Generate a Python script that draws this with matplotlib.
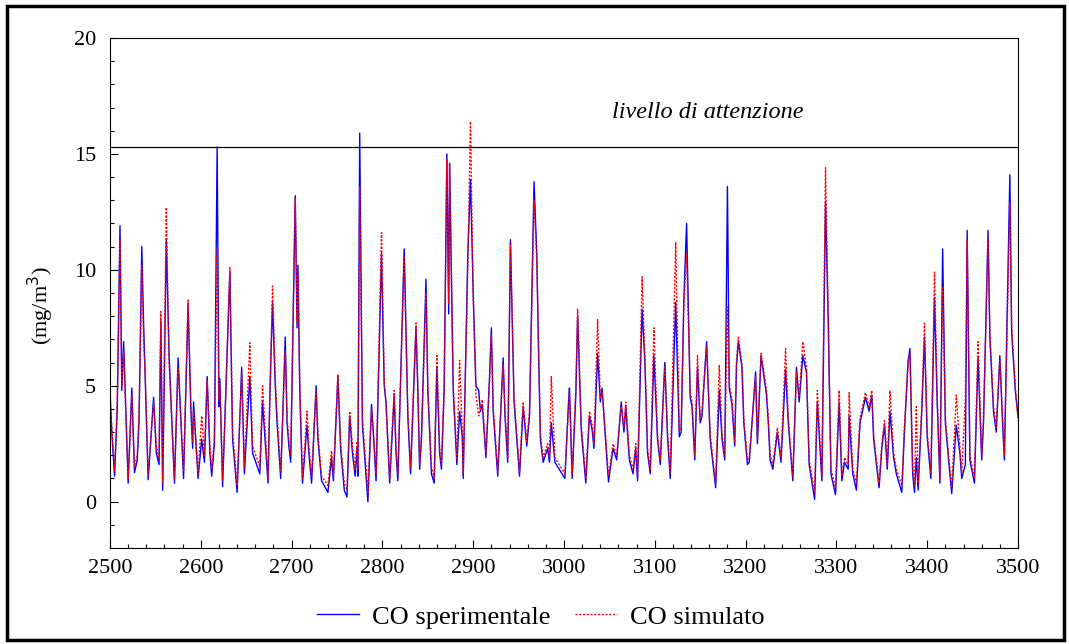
import matplotlib
matplotlib.use('Agg')
import matplotlib.pyplot as plt
from matplotlib.patches import Rectangle
from matplotlib.ticker import MultipleLocator

plt.rcParams['font.family'] = ['Liberation Serif', 'DejaVu Serif']

# ore (asse x) e valori
ore = [2500, 2502, 2505, 2508, 2511, 2513, 2515, 2520, 2524, 2527, 2530, 2532, 2535, 2537, 2539, 2542,
       2548, 2551, 2554, 2556, 2558, 2562, 2565, 2571, 2575, 2581, 2586, 2589, 2591, 2592, 2597, 2601,
       2604, 2607, 2610, 2612, 2615, 2618, 2620, 2621, 2624, 2627, 2632, 2635, 2640, 2645, 2648, 2654,
       2657, 2665, 2668, 2674, 2676, 2679, 2682, 2684, 2688, 2693, 2695, 2697, 2699, 2704, 2706, 2707,
       2709, 2712, 2717, 2719, 2722, 2727, 2729, 2733, 2740, 2744, 2746, 2751, 2754, 2758, 2761, 2764,
       2767, 2770, 2772, 2773, 2775, 2778, 2784, 2788, 2791, 2793, 2799, 2802, 2804, 2808, 2813, 2815,
       2817, 2824, 2828, 2831, 2837, 2839, 2841, 2843, 2848, 2850, 2854, 2857, 2860, 2863, 2865, 2868,
       2871, 2873, 2874, 2878, 2882, 2885, 2888, 2889, 2894, 2897, 2900, 2903, 2906, 2908, 2910, 2914,
       2918, 2920, 2922, 2927, 2933, 2935, 2938, 2941, 2945, 2951, 2955, 2959, 2962, 2967, 2970, 2972,
       2974, 2977, 2982, 2984, 2986, 2990, 3001, 3005, 3006, 3009, 3013, 3015, 3019, 3024, 3028, 3031,
       3033, 3037, 3040, 3042, 3045, 3049, 3054, 3058, 3063, 3066, 3068, 3072, 3076, 3079, 3081, 3086,
       3089, 3092, 3095, 3099, 3103, 3106, 3111, 3114, 3117, 3123, 3127, 3129, 3132, 3135, 3139, 3141,
       3144, 3147, 3150, 3152, 3157, 3161, 3167, 3171, 3174, 3177, 3180, 3182, 3185, 3188, 3190, 3192,
       3196, 3198, 3202, 3204, 3211, 3213, 3217, 3223, 3225, 3227, 3230, 3235, 3239, 3244, 3247, 3252,
       3256, 3259, 3263, 3267, 3270, 3276, 3279, 3282, 3284, 3288, 3291, 3294, 3299, 3303, 3306, 3309,
       3313, 3314, 3318, 3322, 3326, 3332, 3336, 3339, 3341, 3347, 3350, 3353, 3356, 3359, 3363, 3366,
       3372, 3375, 3379, 3381, 3384, 3386, 3388, 3390, 3394, 3397, 3400, 3404, 3408, 3411, 3414, 3417,
       3420, 3424, 3427, 3432, 3436, 3438, 3442, 3444, 3447, 3452, 3456, 3460, 3462, 3467, 3469, 3473,
       3476, 3480, 3483, 3485, 3491, 3493, 3497, 3500]

co_sperimentale = [4.8, 3.0, 1.1, 4.0, 11.9, 4.8, 6.9, 0.8, 4.9, 1.25, 1.8, 3.5, 11.0, 7.7, 5.0, 0.95,
                   4.5, 2.1, 1.6, 7.8, 0.5, 11.3, 6.4, 0.8, 6.2, 1.0, 8.5, 4.0, 2.3, 4.3, 1.0, 2.7,
                   1.7, 5.4, 2.1, 1.1, 2.5, 15.3, 4.1, 5.3, 0.65, 4.1, 9.9, 2.7, 0.4, 5.8, 1.2, 5.4,
                   2.1, 1.2, 4.3, 0.8, 4.5, 8.6, 5.0, 3.4, 1.0, 7.1, 3.4, 2.4, 1.7, 13.2, 7.5, 10.2,
                   4.8, 0.8, 3.3, 2.1, 0.8, 5.0, 2.7, 0.9, 0.4, 1.9, 0.9, 5.4, 2.3, 0.5, 0.2, 3.7,
                   2.1, 1.1, 2.3, 1.1, 15.9, 3.3, 0.0, 4.2, 2.3, 0.9, 10.7, 5.0, 4.3, 0.8, 4.6, 2.1,
                   0.9, 10.9, 3.7, 1.2, 7.5, 4.8, 1.4, 2.7, 9.6, 4.8, 1.2, 0.8, 5.8, 2.1, 1.4, 4.8,
                   15.0, 8.1, 14.6, 4.8, 1.6, 3.9, 2.8, 1.0, 10.6, 13.9, 9.0, 5.0, 4.8, 3.9, 4.2, 1.9,
                   5.4, 7.5, 3.9, 1.1, 6.2, 3.7, 1.7, 11.3, 4.3, 1.1, 4.1, 2.4, 3.7, 13.8, 10.7, 6.4,
                   2.7, 1.7, 2.3, 1.7, 3.4, 1.7, 1.0, 4.3, 4.9, 1.0, 4.6, 8.0, 3.1, 0.8, 3.7, 3.1,
                   2.3, 6.4, 4.3, 4.9, 3.1, 0.85, 2.3, 1.8, 4.3, 3.0, 4.1, 1.8, 1.2, 2.3, 0.9, 8.3,
                   6.1, 2.1, 1.2, 6.3, 2.7, 1.6, 6.0, 2.8, 1.0, 8.6, 2.8, 3.0, 8.7, 12.0, 4.5, 4.1,
                   1.8, 5.8, 3.4, 3.7, 6.9, 2.7, 0.6, 4.8, 2.7, 1.8, 13.6, 4.9, 4.2, 2.4, 5.9, 6.9,
                   5.8, 3.4, 1.6, 1.7, 5.6, 2.5, 6.3, 4.6, 3.4, 1.8, 1.4, 3.0, 1.7, 5.7, 3.4, 0.9,
                   5.8, 4.3, 6.3, 5.6, 1.6, 0.1, 4.3, 2.3, 0.9, 12.9, 7.8, 1.2, 0.3, 4.3, 0.9, 1.7,
                   1.4, 3.7, 1.2, 0.5, 3.4, 4.5, 3.9, 4.6, 2.7, 0.6, 2.3, 3.3, 1.4, 3.9, 1.9, 1.2,
                   0.4, 3.1, 6.1, 6.6, 1.2, 0.4, 1.9, 0.5, 3.9, 7.1, 2.8, 1.0, 8.8, 4.3, 0.8, 10.9,
                   3.4, 1.6, 0.35, 3.3, 2.1, 1.0, 1.6, 11.7, 1.8, 0.8, 6.2, 1.8, 3.4, 11.7, 7.1, 3.9,
                   3.0, 6.3, 3.4, 1.8, 14.1, 7.3, 4.8, 3.7]

co_simulato = [4.2, 3.2, 1.3, 4.3, 11.3, 5.0, 6.5, 1.0, 4.6, 1.5, 2.0, 3.8, 10.2, 7.0, 5.3, 1.1,
               4.3, 2.4, 1.9, 8.2, 0.8, 12.7, 6.0, 1.0, 5.8, 1.3, 8.7, 4.2, 2.6, 4.0, 1.2, 3.7,
               2.0, 5.2, 2.4, 1.4, 2.8, 10.9, 4.4, 5.0, 0.9, 4.0, 10.1, 3.0, 0.7, 5.5, 1.5, 6.85,
               2.4, 1.5, 5.0, 1.0, 4.3, 9.3, 5.3, 3.7, 1.3, 6.5, 3.6, 2.7, 2.0, 13.1, 7.8, 9.8,
               5.0, 1.0, 3.9, 2.4, 1.1, 4.8, 2.9, 1.1, 0.7, 2.2, 1.1, 5.5, 2.5, 0.8, 0.5, 3.9,
               2.4, 1.4, 2.6, 1.4, 13.6, 3.6, 0.4, 4.0, 2.5, 1.2, 11.6, 5.3, 4.1, 1.0, 4.8, 2.3,
               1.2, 10.6, 3.9, 1.5, 7.7, 5.0, 1.6, 2.9, 9.0, 5.0, 1.5, 1.0, 6.3, 2.3, 1.6, 5.0,
               14.8, 8.5, 14.6, 5.0, 1.8, 6.1, 3.0, 1.2, 10.0, 16.4, 8.8, 4.6, 3.7, 4.0, 4.4, 2.1,
               5.2, 7.2, 4.1, 1.3, 5.9, 3.9, 1.9, 11.2, 4.5, 1.3, 4.3, 2.6, 3.9, 13.0, 10.4, 6.6,
               2.9, 1.9, 2.5, 1.9, 5.4, 1.9, 1.2, 4.1, 4.7, 1.2, 4.8, 8.3, 3.3, 1.0, 3.9, 3.3,
               2.5, 7.85, 4.5, 4.7, 3.3, 1.1, 2.5, 2.0, 4.1, 3.2, 4.3, 2.0, 1.4, 2.5, 1.1, 9.7,
               6.3, 2.3, 1.4, 7.5, 2.9, 1.8, 5.8, 3.0, 1.2, 11.2, 3.0, 3.2, 8.5, 10.7, 4.7, 4.3,
               2.0, 6.3, 3.6, 3.9, 6.7, 2.9, 0.8, 5.9, 2.9, 2.0, 8.4, 5.1, 4.4, 2.6, 6.1, 7.1,
               5.9, 3.6, 1.8, 1.9, 5.4, 2.7, 6.4, 4.8, 3.6, 2.0, 1.6, 3.2, 1.9, 6.6, 3.6, 1.1,
               5.6, 4.5, 6.9, 5.8, 1.8, 0.4, 4.8, 2.5, 1.1, 14.4, 8.0, 1.4, 0.6, 4.8, 1.1, 1.9,
               1.6, 4.7, 1.4, 0.8, 3.6, 4.7, 4.1, 4.8, 2.9, 0.8, 2.5, 3.5, 1.6, 4.8, 2.1, 1.4,
               0.7, 3.3, 6.0, 6.4, 1.4, 0.7, 4.1, 0.8, 4.1, 7.7, 3.0, 1.2, 9.9, 4.5, 1.0, 9.3,
               3.6, 1.8, 0.6, 4.6, 2.3, 1.2, 4.5, 11.3, 2.0, 1.0, 6.9, 2.0, 3.6, 11.3, 7.3, 4.1,
               3.2, 6.1, 3.6, 2.0, 12.9, 7.6, 5.0, 3.5]

livello_attenzione = 15.3

fig = plt.figure(figsize=(10.69, 6.44), dpi=100)
ax = fig.add_axes([0.1029, 0.149, 0.8494, 0.792])

l1, = ax.plot(ore, co_sperimentale, color='blue', linewidth=1.0, label='CO sperimentale')
l2, = ax.plot(ore, co_simulato, color='red', linewidth=1.0, linestyle=(0, (1.5, 1.2)),
              label='CO simulato')
ax.axhline(livello_attenzione, color='black', linewidth=0.9)
ax.text(3158, 16.8, 'livello di attenzione', style='italic', fontsize=17.5,
        ha='center', va='center')

ax.set_xlim(2500, 3500)
ax.set_ylim(-2, 20)
ax.set_xticks(range(2500, 3501, 100))
ax.set_yticks([0, 5, 10, 15, 20])
ax.xaxis.set_minor_locator(MultipleLocator(20))
ax.yaxis.set_minor_locator(MultipleLocator(1))
ax.tick_params(which='both', direction='in', top=False, right=False, labelsize=16)
ax.tick_params(which='major', length=6, width=0.8)
ax.tick_params(which='minor', length=3, width=0.8)
ax.tick_params(axis='y', pad=10)
ax.tick_params(axis='x', pad=8)
ax.set_ylabel('(mg/m$^3$)', fontsize=16)
ax.yaxis.set_label_coords(-0.06, 0.476)

fig.legend(handles=[l1, l2], loc='center', bbox_to_anchor=(0.506, 0.042), ncol=2,
           frameon=False, fontsize=19, handlelength=1.6, handletextpad=0.5,
           columnspacing=0.9)

# cornice esterna
fig.patches.append(Rectangle((0.007, 0.006), 0.988, 0.984, transform=fig.transFigure,
                             fill=False, edgecolor='black', linewidth=2.5))

fig.savefig('out.png', dpi=100)
